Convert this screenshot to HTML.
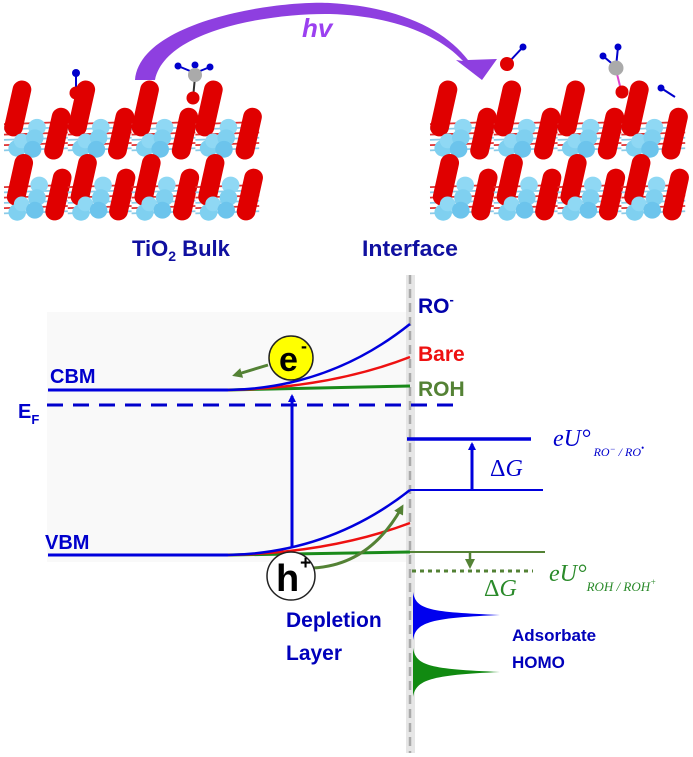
<!DOCTYPE html>
<html><head><meta charset="utf-8"><style>
html,body{margin:0;padding:0;background:#fff}
svg{display:block}
.b{font-family:"Liberation Sans",sans-serif;font-weight:bold}
.s{font-family:"Liberation Serif",serif}
</style></head><body>
<svg width="693" height="757" viewBox="0 0 693 757" xmlns="http://www.w3.org/2000/svg">
<defs>
<marker id="ab" markerWidth="8" markerHeight="8" refX="6" refY="4" orient="auto" markerUnits="userSpaceOnUse"><path d="M0,0 L8,4 L0,8z" fill="#0000dd"/></marker>
<marker id="ag" markerWidth="10" markerHeight="10" refX="7" refY="5" orient="auto" markerUnits="userSpaceOnUse"><path d="M0,0 L10,5 L0,10z" fill="#548235"/></marker>
<g id="cell">
  <g stroke-width="1.6">
    <line x1="0" y1="42" x2="58" y2="40" stroke="#e03030"/><line x1="0" y1="47" x2="58" y2="45" stroke="#8ccbe8"/>
    <line x1="0" y1="52" x2="58" y2="50" stroke="#e03030"/><line x1="0" y1="57" x2="58" y2="55" stroke="#8ccbe8"/>
    <line x1="0" y1="62" x2="58" y2="60" stroke="#e03030"/><line x1="0" y1="67" x2="58" y2="65" stroke="#8ccbe8"/>
    <line x1="0" y1="102" x2="58" y2="100" stroke="#e03030"/><line x1="0" y1="107" x2="58" y2="105" stroke="#8ccbe8"/>
    <line x1="0" y1="112" x2="58" y2="110" stroke="#e03030"/><line x1="0" y1="117" x2="58" y2="115" stroke="#8ccbe8"/>
    <line x1="0" y1="122" x2="58" y2="120" stroke="#e03030"/><line x1="0" y1="127" x2="58" y2="125" stroke="#8ccbe8"/>
  </g>
  <rect x="4" y="0" width="17" height="54" rx="8.5" fill="#e00000" transform="rotate(12 12 27)"/>
  <circle cx="12" cy="65" r="8" fill="#7fd0f0"/><circle cx="16" cy="58" r="7" fill="#8fd8f4"/>
  <circle cx="30" cy="45" r="8" fill="#8fd8f4"/><circle cx="28" cy="55" r="8" fill="#7fd0f0"/><circle cx="26" cy="66" r="8" fill="#6cc4ec"/>
  <rect x="40" y="26" width="17" height="50" rx="8.5" fill="#e00000" transform="rotate(12 48 51)"/>
  <rect x="6" y="70" width="17" height="50" rx="8.5" fill="#e00000" transform="rotate(12 14 95)"/>
  <circle cx="12" cy="126" r="8" fill="#7fd0f0"/><circle cx="16" cy="118" r="7" fill="#8fd8f4"/>
  <circle cx="32" cy="100" r="8" fill="#8fd8f4"/><circle cx="30" cy="112" r="8" fill="#7fd0f0"/><circle cx="28" cy="124" r="8" fill="#6cc4ec"/>
  <rect x="41" y="84" width="17" height="50" rx="8.5" fill="#e00000" transform="rotate(12 49 109)"/>
</g>
</defs>

<!-- crystals -->
<g transform="translate(4,80) scale(1.1,1.05)"><use href="#cell"/><use href="#cell" x="58"/><use href="#cell" x="116"/><use href="#cell" x="174"/></g>
<g transform="translate(430,80) scale(1.1,1.05)"><use href="#cell"/><use href="#cell" x="58"/><use href="#cell" x="116"/><use href="#cell" x="174"/></g>
<!-- adsorbates left -->
<line x1="76" y1="74" x2="76" y2="93" stroke="#0000cc" stroke-width="2"/><circle cx="76" cy="73" r="4" fill="#0000cc"/><circle cx="76" cy="93" r="6.5" fill="#e00000"/>
<line x1="195" y1="77" x2="193" y2="98" stroke="#333" stroke-width="2"/>
<line x1="195" y1="73" x2="178" y2="66" stroke="#0000cc" stroke-width="2"/><line x1="195" y1="73" x2="195" y2="65" stroke="#0000cc" stroke-width="2"/><line x1="195" y1="73" x2="210" y2="67" stroke="#0000cc" stroke-width="2"/>
<circle cx="178" cy="66" r="3.5" fill="#0000cc"/><circle cx="195" cy="65" r="3.5" fill="#0000cc"/><circle cx="210" cy="67" r="3.5" fill="#0000cc"/>
<circle cx="195" cy="75" r="7" fill="#aaa"/><circle cx="193" cy="98" r="6.5" fill="#e00000"/>
<!-- adsorbates right -->
<line x1="509" y1="62" x2="523" y2="47" stroke="#0000cc" stroke-width="2"/><circle cx="523" cy="47" r="3.5" fill="#0000cc"/><circle cx="507" cy="64" r="7" fill="#e00000"/>
<line x1="616" y1="70" x2="621" y2="90" stroke="#dd44cc" stroke-width="2"/>
<line x1="616" y1="67" x2="603" y2="56" stroke="#0000cc" stroke-width="2"/><line x1="616" y1="67" x2="618" y2="47" stroke="#0000cc" stroke-width="2"/>
<circle cx="603" cy="56" r="3.5" fill="#0000cc"/><circle cx="618" cy="47" r="3.5" fill="#0000cc"/>
<circle cx="616" cy="68" r="7.5" fill="#aaa"/><circle cx="622" cy="92" r="6.5" fill="#e00000"/>
<line x1="661" y1="88" x2="675" y2="97" stroke="#0000cc" stroke-width="2"/><circle cx="661" cy="88" r="3.5" fill="#0000cc"/>
<!-- hv arrow -->
<path d="M135,80 C140,20 280,0 330,3 C400,7 445,30 468,60 L497,59 L482,80 L456,60 L463,61 C440,36 395,16 330,14 C270,13 165,30 155,80 Z" fill="#8e3fe0"/>
<text x="302" y="37" font-family="Liberation Sans,sans-serif" font-weight="bold" font-style="italic" font-size="26" fill="#9b40f0">hv</text>
<text x="132" y="256" class="b" font-size="22" fill="#1010a0">TiO<tspan font-size="14" dy="5">2</tspan><tspan dy="-5"> Bulk</tspan></text>
<text x="362" y="256" class="b" font-size="22" fill="#1010a0" textLength="96" lengthAdjust="spacingAndGlyphs">Interface</text>

<!-- band diagram -->
<rect x="47" y="312" width="363" height="250" fill="#f9f9f9"/>
<rect x="406" y="275" width="9" height="478" fill="#e6e6e6"/>
<line x1="410" y1="275" x2="410" y2="753" stroke="#aaa" stroke-width="2.5" stroke-dasharray="9,5"/>

<line x1="48" y1="390" x2="228" y2="390" stroke="#0000dd" stroke-width="3"/>
<path d="M228,390 L410,386" stroke="#1a8a1a" stroke-width="3" fill="none"/>
<path d="M228,390 Q330,388 410,357" stroke="#ee1111" stroke-width="2.5" fill="none"/>
<path d="M228,390 Q330,388 410,324" stroke="#0000dd" stroke-width="2.5" fill="none"/>
<text x="50" y="383" class="b" font-size="20" fill="#0000cc">CBM</text>
<line x1="47" y1="405" x2="458" y2="405" stroke="#0000cc" stroke-width="3" stroke-dasharray="16,10"/>
<text x="18" y="418" class="b" font-size="20" fill="#0000cc">E<tspan font-size="13" dy="6">F</tspan></text>

<line x1="48" y1="555" x2="228" y2="555" stroke="#0000dd" stroke-width="3"/>
<path d="M228,555 L410,552" stroke="#1a8a1a" stroke-width="3" fill="none"/>
<path d="M228,555 Q330,553 410,523" stroke="#ee1111" stroke-width="2.5" fill="none"/>
<path d="M228,555 Q330,553 410,490" stroke="#0000dd" stroke-width="2.5" fill="none"/>
<text x="45" y="549" class="b" font-size="20" fill="#0000cc">VBM</text>

<line x1="292" y1="548" x2="292" y2="396" stroke="#0000dd" stroke-width="3" marker-end="url(#ab)"/>
<line x1="268" y1="365" x2="235" y2="375" stroke="#548235" stroke-width="3" marker-end="url(#ag)"/>
<circle cx="291" cy="358" r="22" fill="#ffff00" stroke="#222" stroke-width="1.5"/>
<text x="279" y="371" class="b" font-size="34" fill="#000">e</text><text x="301" y="352" class="b" font-size="18">-</text>
<path d="M313,568 Q370,565 402,507" stroke="#548235" stroke-width="3" fill="none" marker-end="url(#ag)"/>
<circle cx="291" cy="576" r="24" fill="#fff" stroke="#222" stroke-width="1.5"/>
<text x="276" y="591" class="b" font-size="38" fill="#000">h</text><text x="300" y="569" class="b" font-size="19">+</text>
<text x="286" y="627" class="b" font-size="21" fill="#0000bb">Depletion</text>
<text x="286" y="660" class="b" font-size="21" fill="#0000bb">Layer</text>

<text x="418" y="313" class="b" font-size="21" fill="#0000aa">RO<tspan font-size="13" dy="-9">-</tspan></text>
<text x="418" y="361" class="b" font-size="21" fill="#ee1111">Bare</text>
<text x="418" y="396" class="b" font-size="21" fill="#548235">ROH</text>

<line x1="407" y1="439" x2="531" y2="439" stroke="#0000dd" stroke-width="3.5"/>
<line x1="410" y1="490" x2="543" y2="490" stroke="#0000dd" stroke-width="2"/>
<line x1="472" y1="490" x2="472" y2="444" stroke="#0000dd" stroke-width="3" marker-end="url(#ab)"/>
<text x="490" y="476" class="s" font-size="24" fill="#0000cc">Δ<tspan font-style="italic">G</tspan></text>
<text x="553" y="446" class="s" font-style="italic" font-size="24" fill="#0000cc">eU°<tspan font-size="12" dy="10"> RO<tspan dy="-4" font-size="9">−</tspan><tspan dy="4"> / RO</tspan><tspan dy="-5" font-size="9">•</tspan></tspan></text>

<line x1="410" y1="552" x2="545" y2="552" stroke="#548235" stroke-width="2"/>
<line x1="470" y1="552" x2="470" y2="566" stroke="#548235" stroke-width="2.5" marker-end="url(#ag)"/>
<line x1="412" y1="571" x2="533" y2="571" stroke="#548235" stroke-width="3" stroke-dasharray="4,4"/>
<text x="484" y="596" class="s" font-size="24" fill="#2a8a2a">Δ<tspan font-style="italic">G</tspan></text>
<text x="549" y="581" class="s" font-style="italic" font-size="24" fill="#2a8a2a">eU°<tspan font-size="13" dy="10">ROH / ROH<tspan font-size="9" dy="-6">+</tspan></tspan></text>

<path d="M413,592 C416,610 430,612 500,615 C430,618 416,622 413,640 Z" fill="#0000ee"/>
<path d="M413,648 C416,666 430,669 500,672 C430,675 416,680 413,697 Z" fill="#118a11"/>
<text x="512" y="641" class="b" font-size="17" fill="#0000bb">Adsorbate</text>
<text x="512" y="668" class="b" font-size="17" fill="#0000bb">HOMO</text>
</svg>
</body></html>
